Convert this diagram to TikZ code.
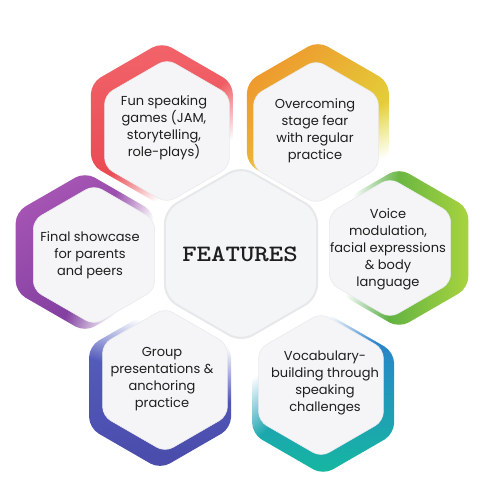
\documentclass[tikz,border=0pt]{standalone}
\usepackage{fontspec}
\usetikzlibrary{fadings}
\newfontfamily\lblfont{Poppins}
\definecolor{hexwhite}{HTML}{F5F5F7}
\definecolor{hexedge}{HTML}{E9EAED}
\definecolor{cenfill}{HTML}{F4F5F7}
\definecolor{cenedge}{HTML}{E6E8EB}
\definecolor{textdark}{HTML}{1E1E1E}
\definecolor{redA}{HTML}{F2646A}
\definecolor{redB}{HTML}{E8454E}
\definecolor{orgA}{HTML}{EE9A2E}
\definecolor{yelB}{HTML}{E0E23C}
\definecolor{grnA}{HTML}{2E9B45}
\definecolor{grnB}{HTML}{A8D33F}
\definecolor{bluA}{HTML}{2E78D4}
\definecolor{tealB}{HTML}{15B8A0}
\definecolor{indA}{HTML}{5762C4}
\definecolor{indB}{HTML}{4A4BAA}
\definecolor{purA}{HTML}{A655B4}
\definecolor{purB}{HTML}{7B3B9C}
\pgfdeclarehorizontalshading{edgeshade}{100bp}{color(0bp)=(pgftransparent!0); color(52bp)=(pgftransparent!0); color(68bp)=(pgftransparent!100); color(100bp)=(pgftransparent!100)}
\tikzfading[name=edgefade, shading=edgeshade]
\newcommand\hexshape[4]{\path[#1,shift={(#2,#3)}] (90:#4) -- (150:#4) -- (210:#4) -- (270:#4) -- (330:#4) -- (30:#4) -- cycle;}
\begin{document}
\begin{tikzpicture}[x=1pt,y=-1pt,
  whitehex/.style={fill=hexwhite, draw=hexedge, line width=0.6pt, rounded corners=9pt},
  colhex/.style={rounded corners=11pt, path fading=edgefade, fading angle=#1},
  lbl/.style={font=\lblfont\fontsize{13}{17}\selectfont, align=center, text=textdark},
  featstyle/.style={font=\fontfamily{lmtt}\fontseries{b}\fontsize{23.5}{26}\selectfont, text=textdark}]
\useasboundingbox (0,0) rectangle (500,500);
% top-left
\hexshape{colhex=-55, top color=redA, bottom color=redB}{162}{124}{82}
\hexshape{whitehex}{167}{131}{72}
% top-right
\hexshape{colhex=-70, left color=orgA, right color=yelB, shading angle=45}{318}{123}{82}
\hexshape{whitehex}{316}{132}{72}
% left
\hexshape{colhex=-25, left color=purA, right color=purB, shading angle=30}{85}{252}{80}
\hexshape{whitehex}{94}{255}{70}
% right
\hexshape{colhex=175, left color=grnA, right color=grnB}{399}{248}{80}
\hexshape{whitehex}{390}{248}{70}
% bottom-left
\hexshape{colhex=75, top color=indA, bottom color=indB}{160}{387}{82}
\hexshape{whitehex}{165}{380}{72}
% bottom-right
\hexshape{colhex=125, top color=bluA, bottom color=tealB}{323}{393}{82}
\hexshape{whitehex}{321}{385}{72}
% centre
\hexshape{fill=cenedge, rounded corners=14pt}{241}{254}{89}
\hexshape{fill=cenfill, rounded corners=13pt}{241}{254}{86.5}

\node[featstyle] (features) at (240,254) {\scalebox{1.17}[1]{FEATURES}};
\node[lbl] (fun) at (164,128) {Fun speaking\\games (JAM,\\storytelling,\\role-plays)};
\node[lbl] (stage) at (315,131) {Overcoming\\stage fear\\with regular\\practice};
\node[lbl] (final) at (90,255) {Final showcase\\for parents\\and peers};
\node[lbl] (voice) at (388,249) {Voice\\modulation,\\facial expressions\\\& body\\language};
\node[lbl] (group) at (162,379) {Group\\presentations \&\\anchoring\\practice};
\node[lbl] (vocab) at (325,383) {Vocabulary-\\building through\\speaking\\challenges};
\end{tikzpicture}
\end{document}
